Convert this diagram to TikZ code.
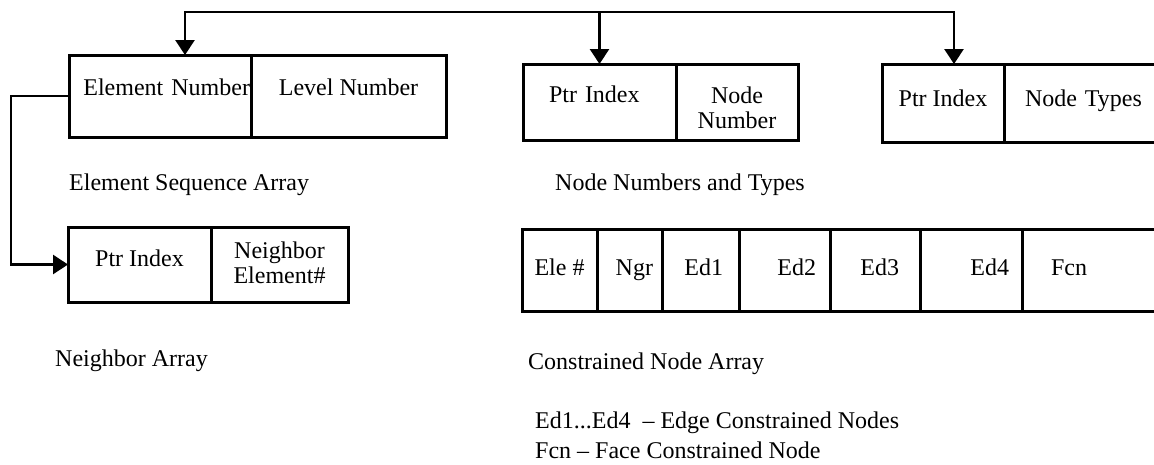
\documentclass[tikz,border=0pt]{standalone}
\usepackage{fontspec}
\setmainfont{Liberation Serif}
\usepackage{tikz}
\usetikzlibrary{
    arrows.meta,
    positioning
}
\newcommand{\diagfont}{\fontsize{24}{25}\selectfont}
\tikzset{
    field/.style={
        draw, line width=3pt, outer sep=0pt, inner sep=0pt,
        font=\diagfont, text height=16pt
    },
    two lines/.style={
        text width=#1, align=center
    },
    pad left/.style={
        text width=#1, align=left
    },
    pad right/.style={
        text width=#1, align=right
    },
    cn field/.style={
        field, text depth=6pt, minimum height=82pt
    },
    caption/.style={
        anchor=base west, inner sep=0pt, font=\diagfont
    },
    link/.style={
        line width=2.8pt
    },
    flow/.style={
        link, -{Triangle[length=15pt, width=19pt]}
    },
    flow both/.style={
        link, {Triangle[length=15pt, width=19pt]}-{Triangle[length=15pt, width=19pt]}
    },
}
\begin{document}
\begin{tikzpicture}[x=1pt, y=-1pt]
    \clip (0,0) rectangle (1154,464);

    % Element sequence array
    \node[field, text depth=18pt, minimum height=82pt, minimum width=182pt, pad right=180pt, anchor=north west] (elnum) at (69,55) {Element Number};
    \node[field, text depth=18pt, minimum height=82pt, minimum width=195pt, right=0pt of elnum] (lvlnum) {Level Number};
    \node[caption] (esalabel) at (69,190) {Element Sequence Array};

    % Neighbor array
    \node[field, text depth=13pt, minimum height=75pt, minimum width=143pt, anchor=north west] (nbptr) at (68,227) {Ptr Index};
    \node[field, two lines=110pt, text depth=29pt, minimum height=75pt, minimum width=137pt, right=0pt of nbptr] (nbelem) {Neighbor\\Element\#};
    \node[caption] (nalabel) at (55,366) {Neighbor Array};

    % Node numbers and types
    \node[field, text depth=16pt, minimum height=76pt, minimum width=153pt, pad left=101pt, anchor=north west] (nnptr) at (523,64) {Ptr Index};
    \node[field, two lines=100pt, text depth=14pt, minimum height=76pt, minimum width=122pt, right=0pt of nnptr] (nnnum) {Node\\Number};
    \node[field, text depth=10pt, minimum height=78pt, minimum width=122pt, anchor=north west] (ntptr) at (882,64) {Ptr Index};
    \node[field, text depth=10pt, minimum height=78pt, minimum width=200pt, pad left=158pt, right=0pt of ntptr] (nttype) {Node Types};
    \node[caption] (nntlabel) at (555,190) {Node Numbers and Types};

    % Constrained node array
    \node[cn field, minimum width=75pt, anchor=north west] (cnele) at (522,229) {Ele \#};
    \node[cn field, minimum width=65pt, pad right=47pt, right=0pt of cnele] (cnngr) {Ngr};
    \node[cn field, minimum width=77pt, pad right=45pt, right=0pt of cnngr] (cned1) {Ed1};
    \node[cn field, minimum width=91pt, pad right=63pt, right=0pt of cned1] (cned2) {Ed2};
    \node[cn field, minimum width=90pt, pad right=48pt, right=0pt of cned2] (cned3) {Ed3};
    \node[cn field, minimum width=102pt, pad right=76pt, right=0pt of cned3] (cned4) {Ed4};
    \node[cn field, minimum width=200pt, pad left=142pt, right=0pt of cned4] (cnfcn) {Fcn};
    \node[caption] (cnalabel) at (528,369) {Constrained Node Array};
    \node[caption] (edlabel) at (535,428) {Ed1...Ed4\ \ -- Edge Constrained Nodes};
    \node[caption] (fcnlabel) at (535,458) {Fcn -- Face Constrained Node};

    % Pointers
    \coordinate (bus west) at (185,12);
    \coordinate (bus east) at (954,12);
    \coordinate (back) at (11,180);
    \draw[flow both] (bus west |- elnum.north) -- (bus west) -- (bus east) -- (bus east |- ntptr.north);
    \draw[flow] (bus west -| nnptr.north) -- (nnptr.north);
    \draw[flow] (elnum.west) -- (elnum.west -| back) -- (nbptr.west -| back) -- (nbptr.west);
\end{tikzpicture}
\end{document}
